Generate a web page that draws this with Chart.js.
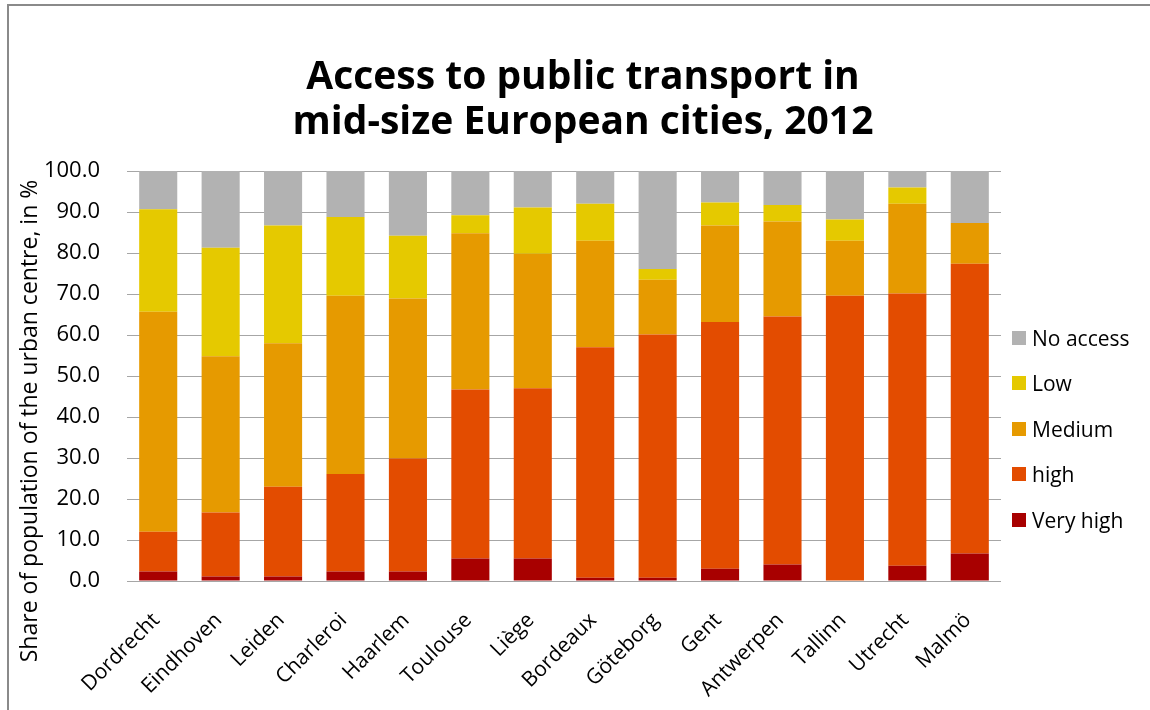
<!DOCTYPE html>
<html>
<head>
<meta charset="utf-8">
<script src="https://cdn.jsdelivr.net/npm/chart.js@4.4.1/dist/chart.umd.min.js"></script>
<style>
  html, body { margin: 0; padding: 0; background: #fff; overflow: hidden; }
  #wrap { position: relative; width: 1166px; height: 710px; }
  #frame {
    position: absolute; left: 7px; top: 4px; width: 1160px; height: 720px;
    border: 2px solid #8a8a8a; pointer-events: none;
  }
  #legendContainer { position: absolute; left: 1012px; top: 315px; }
  #legendContainer ul { list-style: none; margin: 0; padding: 0; }
  #legendContainer li {
    display: flex; align-items: center; height: 45.5px;
    font: 21px "Open Sans", sans-serif; color: #000;
  }
  #legendContainer .box { width: 14px; height: 14px; margin-right: 6px; }
</style>
</head>
<body>
<div id="wrap">
  <canvas id="chartDestination"></canvas>
  <div id="legendContainer"></div>
  <div id="frame"></div>
</div>
<script>
const cities = ["Dordrecht", "Eindhoven", "Leiden", "Charleroi", "Haarlem", "Toulouse", "Liège",
  "Bordeaux", "Göteborg", "Gent", "Antwerpen", "Tallinn", "Utrecht", "Malmö"];
const veryHigh = [2.3, 1.1, 1.1, 2.3, 2.3, 5.5, 5.5, 0.8, 0.8, 3.0, 4.0, 0.0, 3.7, 6.7];
const high = [9.7, 15.6, 21.9, 23.8, 27.6, 41.2, 41.5, 56.2, 59.3, 60.2, 60.5, 69.6, 66.4, 70.7];
const medium = [53.7, 38.1, 35.0, 43.5, 39.0, 38.1, 32.8, 26.0, 13.4, 23.5, 23.2, 13.4, 21.9, 9.9];
const low = [25.0, 26.5, 28.7, 19.2, 15.3, 4.4, 11.3, 9.0, 2.6, 5.6, 4.0, 5.2, 4.0, 0.0];
const noAccess = [9.3, 18.7, 13.3, 11.2, 15.8, 10.8, 8.9, 8.0, 23.9, 7.7, 8.3, 11.8, 4.0, 12.7];
const yTicks = [0, 10, 20, 30, 40, 50, 60, 70, 80, 90, 100];

const FONT = '"Open Sans", sans-serif';

// legend drawn as html list, top entry = top of the stack
const htmlLegendPlugin = {
  id: "htmlLegend",
  afterUpdate(chart, args, options) {
    const container = document.getElementById(options.containerID);
    let ul = container.querySelector("ul");
    if (!ul) {
      ul = document.createElement("ul");
      container.appendChild(ul);
    }
    while (ul.firstChild) ul.firstChild.remove();
    const items = chart.options.plugins.legend.labels.generateLabels(chart).reverse();
    items.forEach((item) => {
      const li = document.createElement("li");
      const box = document.createElement("span");
      box.className = "box";
      box.style.background = item.fillStyle;
      const txt = document.createElement("span");
      txt.textContent = item.text;
      li.appendChild(box);
      li.appendChild(txt);
      ul.appendChild(li);
    });
  },
};

// rotated y axis title, placed like the original
const yTitlePlugin = {
  id: "yTitle",
  afterDraw(chart, args, options) {
    const ctx = chart.ctx;
    ctx.save();
    ctx.translate(options.x, options.y);
    ctx.rotate(-Math.PI / 2);
    ctx.font = `${options.size}px ${FONT}`;
    ctx.fillStyle = "#000";
    ctx.textAlign = "center";
    ctx.textBaseline = "middle";
    ctx.fillText(options.text, 0, 0);
    ctx.restore();
  },
};

function ds(label, data, color) {
  return { label, data, backgroundColor: color, borderWidth: 0 };
}

const ctx = document.getElementById("chartDestination");
const chart = new Chart(ctx, {
  type: "bar",
  data: {
    labels: cities,
    datasets: [
      ds("Very high", veryHigh, "#a80000"),
      ds("high", high, "#e34c00"),
      ds("Medium", medium, "#e69a00"),
      ds("Low", low, "#e5c900"),
      ds("No access", noAccess, "#b2b2b2"),
    ],
  },
  options: {
    responsive: true,
    maintainAspectRatio: false,
    animation: false,
    layout: { padding: 0 },
    datasets: { bar: { barPercentage: 0.61, categoryPercentage: 1.0 } },
    scales: {
      x: {
        stacked: true,
        grid: { display: false },
        border: { display: false },
        ticks: {
          color: "#000",
          font: { family: FONT, size: 21 },
          minRotation: 45,
          maxRotation: 45,
          padding: 19,
          labelOffset: -2,
          autoSkip: false,
        },
        afterFit(scale) { scale.height = 129; },
      },
      y: {
        stacked: true,
        min: 0,
        max: 100,
        grid: { color: "#a6a6a6", lineWidth: 1, drawTicks: false },
        border: { display: false },
        afterBuildTicks(scale) { scale.ticks = yTicks.map((v) => ({ value: v })); },
        ticks: {
          color: "#000",
          font: { family: FONT, size: 22 },
          padding: 27,
          callback: (v) => Number(v).toFixed(1),
        },
        afterFit(scale) { scale.width = 127; },
      },
      // empty axis on the right keeps room for the html legend
      room: {
        position: "right",
        grid: { display: false },
        border: { display: false },
        ticks: { display: false },
        afterFit(scale) { scale.width = 165; },
      },
    },
    plugins: {
      title: {
        display: true,
        text: ["Access to public transport in", "mid-size European cities, 2012"],
        color: "#000",
        font: { family: FONT, size: 39, weight: "bold", lineHeight: 1.167 },
        padding: { top: 55, bottom: 25 },
      },
      legend: { display: false },
      tooltip: { enabled: false },
      htmlLegend: { containerID: "legendContainer" },
      yTitle: { text: "Share of population of the urban centre, in %", x: 30, y: 421, size: 23 },
    },
  },
  plugins: [htmlLegendPlugin, yTitlePlugin],
});
</script>
</body>
</html>
